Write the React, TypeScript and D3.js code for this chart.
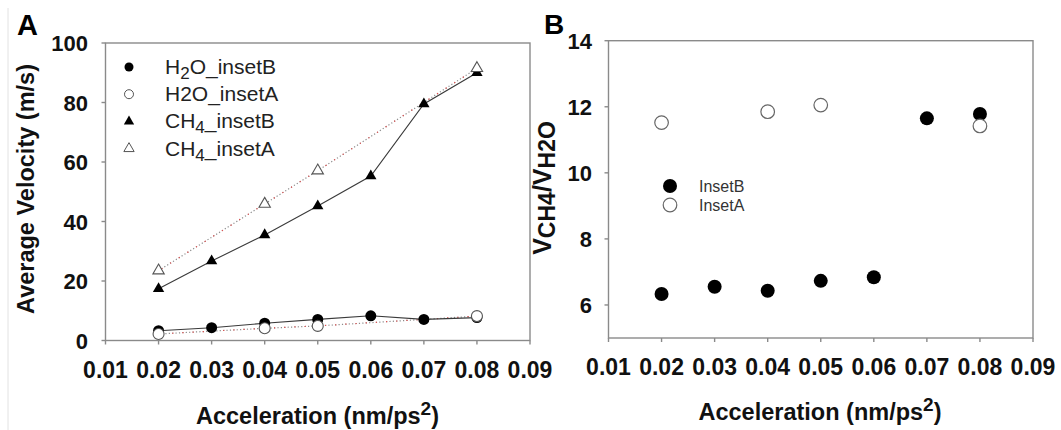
import React from "react";
import * as d3 from "d3";

const accel = [0.02, 0.03, 0.04, 0.05, 0.06, 0.07, 0.08];
const accelInsetA = [0.02, 0.04, 0.05, 0.08];
const h2oInsetB = [3.3, 4.3, 5.8, 7.1, 8.3, 7.1, 7.7];
const h2oInsetA = [2.2, 4.1, 4.9, 8.2];
const ch4InsetB = [17.4, 26.7, 35.5, 45.2, 55.3, 79.5, 90.0];
const ch4InsetA = [23.5, 45.9, 57.1, 91.5];
const ratioInsetB = [6.33, 6.55, 6.43, 6.73, 6.84, 11.65, 11.78];
const ratioInsetA = [11.52, 11.85, 12.05, 11.42];
const xTicks = [0.01, 0.02, 0.03, 0.04, 0.05, 0.06, 0.07, 0.08, 0.09];
const yTicksA = [0, 20, 40, 60, 80, 100];
const yTicksB = [6, 8, 10, 12, 14];

const FONT = "'Liberation Sans', Arial, Helvetica, sans-serif";
const FRAME = "#8a8a8a";

const xA = d3.scaleLinear().domain([0.01, 0.09]).range([105.5, 530]);
const yA = d3.scaleLinear().domain([0, 100]).range([340.5, 43]);
const xB = d3.scaleLinear().domain([0.01, 0.09]).range([608.5, 1033]);
const yB = d3.scaleLinear().domain([5, 14]).range([338, 40.7]);

const tri = d3.symbol().type(d3.symbolTriangle).size(56)();
const triLeg = d3.symbol().type(d3.symbolTriangle).size(46)();

function zip(xs: number[], ys: number[]): [number, number][] {
  return xs.map((x, i) => [x, ys[i]]);
}

function Dotted({ d }: { d: string }) {
  return (
    <g fill="none">
      <path d={d} stroke="#8c8c8c" strokeWidth={1.2} strokeDasharray="1.2 2.2" />
      <path d={d} stroke="#e05050" strokeWidth={1.2} strokeDasharray="1.2 9" strokeDashoffset={-3.4} />
    </g>
  );
}

function Frame({ x, y }: { x: d3.ScaleLinear<number, number>; y: d3.ScaleLinear<number, number> }) {
  const [x0, x1] = x.range();
  const [y0, y1] = y.range();
  return (
    <g>
      <rect x={x0} y={y1} width={x1 - x0} height={y0 - y1} fill="none" stroke={FRAME} strokeWidth={1.4} />
      {xTicks.map((t) => (
        <line key={t} x1={x(t)} x2={x(t)} y1={y0} y2={y0 + 4} stroke={FRAME} strokeWidth={1.4} />
      ))}
    </g>
  );
}

function XTickLabels({ x, baseline }: { x: d3.ScaleLinear<number, number>; baseline: number }) {
  return (
    <g fontFamily={FONT} fontWeight="bold" fontSize={23} fill="#111" textAnchor="middle">
      {xTicks.map((t) => (
        <text key={t} x={x(t)} y={baseline}>
          {d3.format(".2f")(t)}
        </text>
      ))}
    </g>
  );
}

function XTitle({ cx, baseline }: { cx: number; baseline: number }) {
  return (
    <text x={cx} y={baseline} fontFamily={FONT} fontWeight="bold" fontSize={23.5} fill="#111" textAnchor="middle">
      Acceleration (nm/ps
      <tspan dy={-9} fontSize={19}>2</tspan>
      <tspan dy={9}>)</tspan>
    </text>
  );
}

export default function App() {
  const lineA = d3
    .line<[number, number]>()
    .x((d) => xA(d[0]))
    .y((d) => yA(d[1]));

  const h2oB = zip(accel, h2oInsetB);
  const h2oA = zip(accelInsetA, h2oInsetA);
  const ch4B = zip(accel, ch4InsetB);
  const ch4A = zip(accelInsetA, ch4InsetA);
  const rB = zip(accel, ratioInsetB);
  const rA = zip(accelInsetA, ratioInsetA);

  const legA = [
    { label: ["H", "2", "O_insetB"], kind: "fc" },
    { label: ["H2O_insetA"], kind: "oc" },
    { label: ["CH", "4", "_insetB"], kind: "ft" },
    { label: ["CH", "4", "_insetA"], kind: "ot" },
  ];

  return (
    <svg
      width={1061}
      height={430}
      style={{ position: "absolute", left: 0, top: 0, background: "#fff" }}
    >
      <rect x={0} y={0} width={1061} height={430} fill="#fff" />
      <line x1={8} x2={8} y1={8} y2={430} stroke="#e2e2e2" strokeWidth={1} />

      {/* ---------- Panel A ---------- */}
      <text x={17} y={35} fontFamily={FONT} fontWeight="bold" fontSize={29} fill="#000">
        A
      </text>
      <Frame x={xA} y={yA} />
      {yTicksA.map((t) => (
        <g key={t}>
          <line x1={xA.range()[0] - 4} x2={xA.range()[0]} y1={yA(t)} y2={yA(t)} stroke={FRAME} strokeWidth={1.4} />
          <text
            x={88}
            y={yA(t) + 8}
            fontFamily={FONT}
            fontWeight="bold"
            fontSize={22}
            fill="#111"
            textAnchor="end"
          >
            {t}
          </text>
        </g>
      ))}
      <XTickLabels x={xA} baseline={378} />
      <XTitle cx={317.5} baseline={424} />
      <text
        transform="translate(34,189) rotate(-90)"
        fontFamily={FONT}
        fontWeight="bold"
        fontSize={23.5}
        fill="#111"
        textAnchor="middle"
      >
        Average Velocity (m/s)
      </text>

      {/* lines */}
      <Dotted d={lineA(ch4A) || ""} />
      <Dotted d={lineA(h2oA) || ""} />
      <path d={lineA(ch4B) || ""} fill="none" stroke="#3a3a3a" strokeWidth={1.1} />
      <path d={lineA(h2oB) || ""} fill="none" stroke="#3a3a3a" strokeWidth={1.1} />

      {/* markers */}
      {ch4B.map((d, i) => (
        <path key={"tb" + i} d={tri} transform={`translate(${xA(d[0])},${yA(d[1])})`} fill="#000" />
      ))}
      {ch4A.map((d, i) => (
        <path
          key={"ta" + i}
          d={tri}
          transform={`translate(${xA(d[0])},${yA(d[1])})`}
          fill="#fff"
          stroke="#555"
          strokeWidth={1.1}
        />
      ))}
      {h2oB.map((d, i) => (
        <circle key={"cb" + i} cx={xA(d[0])} cy={yA(d[1])} r={5.5} fill="#000" />
      ))}
      {h2oA.map((d, i) => (
        <circle key={"ca" + i} cx={xA(d[0])} cy={yA(d[1])} r={5.5} fill="#fff" stroke="#555" strokeWidth={1.1} />
      ))}

      {/* legend A */}
      {legA.map((l, i) => {
        const cy = 67 + i * 27.2;
        const mx = 129;
        let marker;
        if (l.kind === "fc") marker = <circle cx={mx} cy={cy} r={4.5} fill="#000" />;
        else if (l.kind === "oc") marker = <circle cx={mx} cy={cy} r={4.5} fill="#fff" stroke="#555" strokeWidth={1} />;
        else if (l.kind === "ft") marker = <path d={triLeg} transform={`translate(${mx},${cy})`} fill="#000" />;
        else marker = <path d={triLeg} transform={`translate(${mx},${cy})`} fill="#fff" stroke="#555" strokeWidth={1} />;
        return (
          <g key={i}>
            {marker}
            <text x={165} y={cy + 7} fontFamily={FONT} fontSize={21} fill="#222">
              {l.label.length === 1 ? (
                l.label[0]
              ) : (
                <>
                  {l.label[0]}
                  <tspan dy={5} fontSize={17}>
                    {l.label[1]}
                  </tspan>
                  <tspan dy={-5}>{l.label[2]}</tspan>
                </>
              )}
            </text>
          </g>
        );
      })}

      {/* ---------- Panel B ---------- */}
      <text x={544} y={34} fontFamily={FONT} fontWeight="bold" fontSize={28} fill="#000">
        B
      </text>
      <Frame x={xB} y={yB} />
      {yTicksB.map((t) => (
        <g key={t}>
          <line x1={xB.range()[0] - 4} x2={xB.range()[0]} y1={yB(t)} y2={yB(t)} stroke={FRAME} strokeWidth={1.4} />
          <text
            x={592}
            y={yB(t) + 8}
            fontFamily={FONT}
            fontWeight="bold"
            fontSize={22}
            fill="#111"
            textAnchor="end"
          >
            {t}
          </text>
        </g>
      ))}
      <XTickLabels x={xB} baseline={375} />
      <XTitle cx={820} baseline={420} />
      <text
        transform="translate(551,188) rotate(-90)"
        fontFamily={FONT}
        fontWeight="bold"
        fontSize={25}
        fill="#111"
        textAnchor="middle"
      >
        V
        <tspan dy={4} fontSize={23}>CH4</tspan>
        <tspan dy={-4}>/V</tspan>
        <tspan dy={4} fontSize={23}>H2O</tspan>
      </text>

      {rB.map((d, i) => (
        <circle key={"rb" + i} cx={xB(d[0])} cy={yB(d[1])} r={7} fill="#000" />
      ))}
      {rA.map((d, i) => (
        <circle key={"ra" + i} cx={xB(d[0])} cy={yB(d[1])} r={6.8} fill="#fff" stroke="#666" strokeWidth={1.2} />
      ))}

      {/* legend B */}
      <circle cx={670} cy={186} r={7} fill="#000" />
      <circle cx={670} cy={205} r={6.8} fill="#fff" stroke="#666" strokeWidth={1.2} />
      <text x={699} y={191.5} fontFamily={FONT} fontSize={16} fill="#333">
        InsetB
      </text>
      <text x={699} y={210.5} fontFamily={FONT} fontSize={16} fill="#333">
        InsetA
      </text>
    </svg>
  );
}
